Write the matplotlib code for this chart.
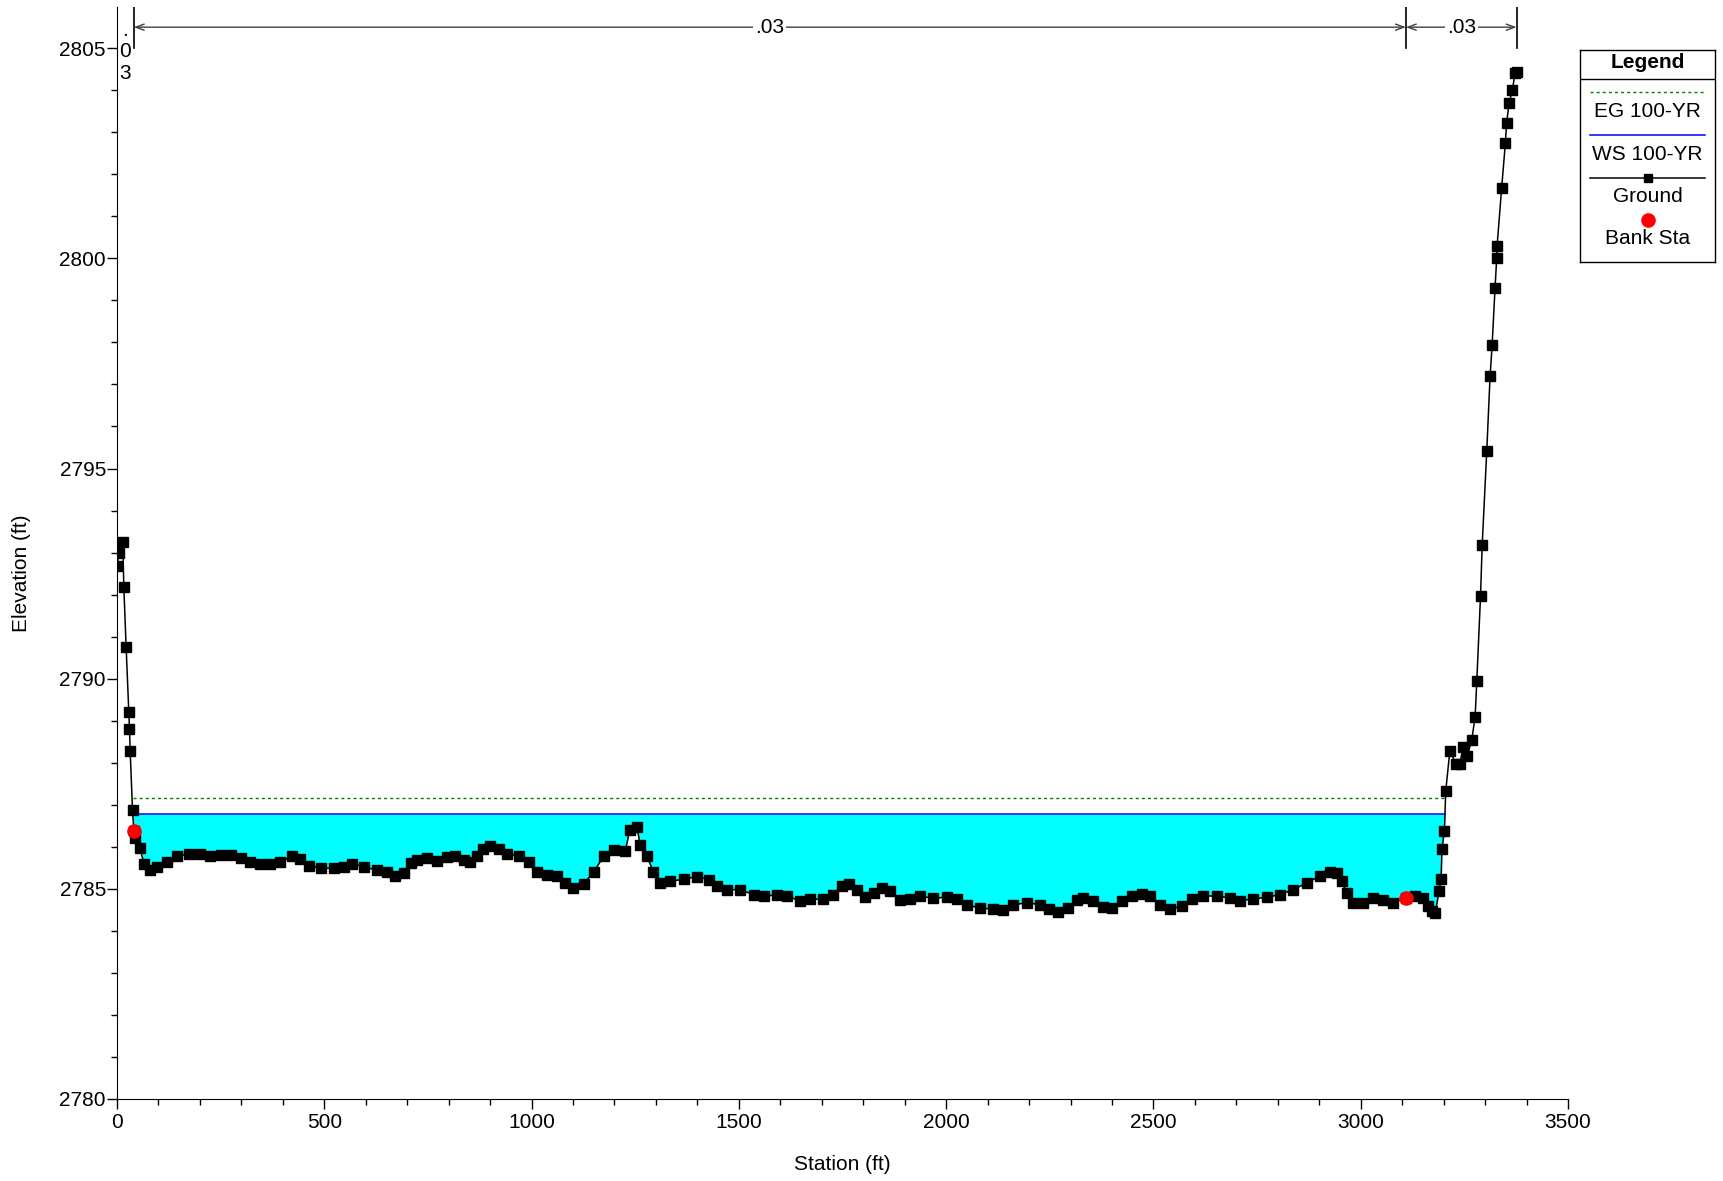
import numpy as np
import matplotlib
matplotlib.use("Agg")
import matplotlib.pyplot as plt
from matplotlib.ticker import MultipleLocator

plt.rcParams['font.family'] = ['Liberation Sans', 'DejaVu Sans']

# cross section ground points (station ft, elevation ft)
station = [0.5, 4.3, 14, 16.4, 22, 28.4, 30.1, 31.8, 37.4, 40.5, 44.6, 55, 66, 80.8,
           97, 121, 145, 173, 201, 225, 250, 274, 298, 322, 346, 370, 394, 422, 442,
           462, 491, 523, 547, 567, 595, 627, 652, 671, 692, 708, 724, 748, 772, 796,
           816, 836, 852, 868, 884, 900, 921, 941, 969, 993, 1013, 1037, 1061, 1081,
           1101, 1126, 1150, 1174, 1198, 1226, 1237, 1254, 1262, 1278, 1294, 1310,
           1335, 1367, 1399, 1427, 1447, 1471, 1503, 1536, 1560, 1592, 1616, 1648,
           1672, 1704, 1728, 1748, 1765, 1785, 1805, 1825, 1845, 1865, 1889, 1913,
           1937, 1969, 2002, 2026, 2050, 2082, 2114, 2138, 2162, 2195, 2227, 2247,
           2271, 2295, 2315, 2331, 2355, 2379, 2400, 2424, 2448, 2472, 2492, 2516,
           2540, 2568, 2592, 2620, 2653, 2685, 2709, 2741, 2773, 2805, 2837, 2870,
           2902, 2926, 2942, 2954, 2966, 2982, 3006, 3030, 3054, 3079, 3109, 3131,
           3151, 3163, 3172, 3180, 3189, 3194, 3196, 3202, 3205, 3215, 3230, 3239,
           3247, 3257, 3268, 3276, 3280, 3289, 3293, 3304, 3312, 3317, 3324, 3328,
           3329, 3340, 3349, 3352, 3358, 3366, 3372, 3376]
elevation = [2792.68, 2793.0, 2793.25, 2792.19, 2790.76, 2789.2, 2788.81, 2788.27, 2786.88,
             2786.38, 2786.21, 2785.96, 2785.58, 2785.45, 2785.53, 2785.65, 2785.77,
             2785.83, 2785.83, 2785.79, 2785.81, 2785.81, 2785.73, 2785.65, 2785.60,
             2785.60, 2785.65, 2785.77, 2785.71, 2785.55, 2785.49, 2785.49, 2785.53,
             2785.60, 2785.52, 2785.45, 2785.39, 2785.31, 2785.37, 2785.61, 2785.69,
             2785.73, 2785.67, 2785.76, 2785.77, 2785.69, 2785.64, 2785.77, 2785.95,
             2786.01, 2785.95, 2785.83, 2785.79, 2785.65, 2785.41, 2785.32, 2785.31,
             2785.14, 2785.02, 2785.12, 2785.41, 2785.77, 2785.93, 2785.89, 2786.41,
             2786.47, 2786.05, 2785.77, 2785.41, 2785.14, 2785.18, 2785.23, 2785.29,
             2785.22, 2785.07, 2784.98, 2784.98, 2784.86, 2784.82, 2784.86, 2784.82,
             2784.72, 2784.75, 2784.76, 2784.86, 2785.07, 2785.12, 2784.98, 2784.80,
             2784.90, 2785.02, 2784.94, 2784.74, 2784.76, 2784.82, 2784.78, 2784.80,
             2784.76, 2784.62, 2784.54, 2784.52, 2784.50, 2784.62, 2784.67, 2784.62,
             2784.52, 2784.44, 2784.54, 2784.74, 2784.78, 2784.70, 2784.57, 2784.54,
             2784.70, 2784.83, 2784.88, 2784.83, 2784.62, 2784.52, 2784.58, 2784.76,
             2784.83, 2784.83, 2784.78, 2784.72, 2784.76, 2784.80, 2784.86, 2784.98,
             2785.14, 2785.31, 2785.39, 2785.37, 2785.18, 2784.90, 2784.67, 2784.66,
             2784.78, 2784.74, 2784.67, 2784.78, 2784.83, 2784.78, 2784.58, 2784.48,
             2784.43, 2784.95, 2785.24, 2785.95, 2786.38, 2787.32, 2788.28, 2787.97,
             2787.97, 2788.38, 2788.16, 2788.55, 2789.10, 2789.94, 2791.97, 2793.18,
             2795.41, 2797.19, 2797.94, 2799.29, 2800.00, 2800.30, 2801.68, 2802.75,
             2803.23, 2803.70, 2804.01, 2804.40, 2804.44]

bank_sta = [40.5, 3109]
bank_elev = [2786.38, 2784.78]

ws_elev = 2786.78   # WS 100-YR
eg_elev = 2787.17   # EG 100-YR

# manning's n breaks and values
n_breaks = [0, 40.5, 3109, 3376]
n_values = ['.03', '.03', '.03']

sta = np.array(station, dtype=float)
elev = np.array(elevation, dtype=float)


def crossings(x, y, level):
    # stations where the ground profile crosses a given elevation
    out = []
    for i in range(len(x) - 1):
        if (y[i] - level) * (y[i + 1] - level) < 0:
            out.append(x[i] + (level - y[i]) * (x[i + 1] - x[i]) / (y[i + 1] - y[i]))
    return out


ws_x = crossings(sta, elev, ws_elev)
ws_left, ws_right = ws_x[0], ws_x[-1]

fig = plt.figure(figsize=(17.23, 11.81), dpi=100)
ax = fig.add_axes([117 / 1723, 82 / 1181, 1451 / 1723, 1092 / 1181])

ax.fill_between(sta, elev, ws_elev, where=elev < ws_elev, interpolate=True,
                color='#00ffff', lw=0, zorder=1)
ax.plot([ws_left, ws_right], [eg_elev, eg_elev], color='#008000', lw=1.0,
        ls=(0, (2.2, 2.2)), zorder=2)
ax.plot([ws_left, ws_right], [ws_elev, ws_elev], color='blue', lw=1.1, zorder=3)
ax.plot(sta, elev, color='black', lw=1.1, marker='s', ms=6.5, zorder=4)
ax.plot(bank_sta, bank_elev, 'o', color='red', ms=9.5, mec='red', zorder=5)

# n value dimension lines along the top
top = 2805.98
arr_y = 2805.5
for b in n_breaks[1:]:
    ax.plot([b, b], [2805, top], color='black', lw=1.2, zorder=3)
for i, val in enumerate(n_values):
    x0, x1 = n_breaks[i], n_breaks[i + 1]
    if x1 - x0 < 100:
        # too narrow, stack the characters
        ax.text((x0 + x1) / 2, 2805.30, '.', ha='center', va='baseline', fontsize=15)
        ax.text((x0 + x1) / 2, 2804.80, '0', ha='center', va='baseline', fontsize=15)
        ax.text((x0 + x1) / 2, 2804.27, '3', ha='center', va='baseline', fontsize=15)
        continue
    ax.annotate('', xy=(x1, arr_y), xytext=(x0, arr_y),
                arrowprops=dict(arrowstyle='<->,head_length=0.6,head_width=0.22',
                                color='#404040', lw=1.0, shrinkA=0, shrinkB=0))
    ax.text((x0 + x1) / 2, arr_y, val, ha='center', va='center', fontsize=15,
            bbox=dict(facecolor='white', edgecolor='none', pad=1.5), zorder=6)

ax.set_xlim(0, 3500)
ax.set_ylim(2780, top)
ax.xaxis.set_major_locator(MultipleLocator(500))
ax.xaxis.set_minor_locator(MultipleLocator(100))
ax.yaxis.set_major_locator(MultipleLocator(5))
ax.yaxis.set_minor_locator(MultipleLocator(1))
ax.tick_params(which='major', direction='out', length=7, width=1, labelsize=15)
ax.tick_params(axis='y', which='major', pad=1)
ax.tick_params(axis='x', which='major', pad=3)
ax.tick_params(which='minor', direction='out', length=4, width=1)
ax.spines['top'].set_visible(False)
ax.spines['right'].set_visible(False)
ax.set_xlabel('Station (ft)', fontsize=15, labelpad=17)
ax.set_ylabel('Elevation (ft)', fontsize=15)
ax.yaxis.set_label_coords(-0.0596, (2792.5 - 2780) / (top - 2780))

# legend box
lg = fig.add_axes([1580 / 1723, 1 - 262 / 1181, 135 / 1723, 212 / 1181])
lg.set_xlim(0, 1)
lg.set_ylim(0, 1)
lg.set_xticks([])
lg.set_yticks([])
for s in lg.spines.values():
    s.set_linewidth(1.0)
lg.text(0.5, 0.943, 'Legend', ha='center', va='center', fontsize=15, fontweight='bold')
lg.plot([0, 1], [0.863, 0.863], color='black', lw=1.0)
lg.plot([0.074, 0.926], [0.803, 0.803], color='#008000', lw=1.0, ls=(0, (2.2, 2.2)))
lg.text(0.5, 0.712, 'EG 100-YR', ha='center', va='center', fontsize=15)
lg.plot([0.074, 0.926], [0.599, 0.599], color='blue', lw=1.1)
lg.text(0.5, 0.507, 'WS 100-YR', ha='center', va='center', fontsize=15)
lg.plot([0.074, 0.926], [0.398, 0.398], color='black', lw=1.1)
lg.plot([0.5], [0.398], 's', color='black', ms=5.5)
lg.text(0.5, 0.311, 'Ground', ha='center', va='center', fontsize=15)
lg.plot([0.5], [0.198], 'o', color='red', ms=9.5)
lg.text(0.5, 0.113, 'Bank Sta', ha='center', va='center', fontsize=15)

fig.savefig('out.png', dpi=100)
